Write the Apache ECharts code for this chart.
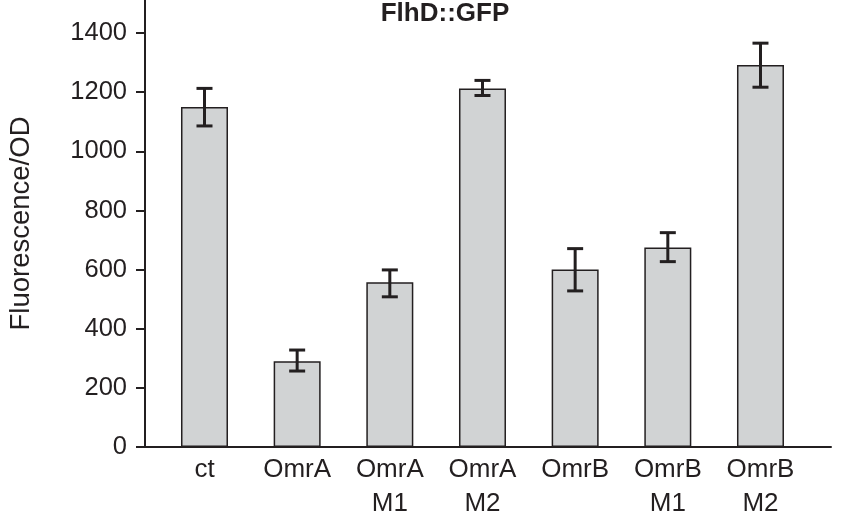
<!DOCTYPE html>
<html><head><meta charset="utf-8">
<script src="https://cdn.jsdelivr.net/npm/echarts@6/dist/echarts.min.js"></script>
<style>html,body{margin:0;padding:0;background:#fff}#c{width:841px;height:517px}</style>
</head><body><div id="c"></div>
<script>
const categories = ['ct', 'OmrA', 'OmrA\nM1', 'OmrA\nM2', 'OmrB', 'OmrB\nM1', 'OmrB\nM2'];
const values = [1150, 290, 557, 1213, 600, 675, 1292];
const errLow = [1086, 257, 508, 1189, 528, 627, 1217];
const errHigh = [1213, 328, 599, 1240, 671, 725, 1366];
const yTicks = [0, 200, 400, 600, 800, 1000, 1200, 1400];
const title = 'FlhD::GFP';
const yName = 'Fluorescence/OD';

const ink = '#231f20';
const font = '"Liberation Sans", Arial, sans-serif';
const idx = categories.map((c, i) => i);

const chart = echarts.init(document.getElementById('c'), null, {renderer: 'canvas'});
chart.setOption({
  animation: false,
  backgroundColor: '#fff',
  title: {
    text: title, left: 440, top: -4, textAlign: 'center',
    textStyle: {fontFamily: font, fontSize: 26, fontWeight: 'bold', color: ink}
  },
  grid: {left: 145, right: 10, top: 0, bottom: 70, containLabel: false, outerBoundsMode: 'none'},
  xAxis: {
    type: 'value', min: -0.642, max: 6.761,
    splitLine: {show: false},
    axisLine: {onZero: false, lineStyle: {color: ink, width: 2}},
    axisTick: {show: false},
    axisLabel: {
      customValues: idx, margin: 6,
      formatter: v => categories[Math.round(v)],
      fontFamily: font, fontSize: 26, color: ink, lineHeight: 34
    }
  },
  yAxis: {
    type: 'value', min: 0, max: 1512,
    name: yName, nameLocation: 'middle', nameGap: 110, nameRotate: 90,
    nameTextStyle: {fontFamily: font, fontSize: 27.5, color: ink},
    splitLine: {show: false},
    axisLine: {onZero: false, lineStyle: {color: ink, width: 2}},
    axisTick: {customValues: yTicks, length: 9, lineStyle: {color: ink, width: 2}},
    axisLabel: {customValues: yTicks, margin: 18, formatter: v => String(v),
      fontFamily: font, fontSize: 25.5, color: ink}
  },
  series: [
    {
      type: 'bar', barWidth: 47,
      data: values.map((v, i) => [i, v]),
      itemStyle: {color: '#d1d3d4', borderColor: ink, borderWidth: 1.5}
    },
    {
      type: 'custom',
      data: idx.map(i => [i, errLow[i], errHigh[i]]),
      renderItem: function (params, api) {
        const lo = api.coord([api.value(0), api.value(1)]);
        const hi = api.coord([api.value(0), api.value(2)]);
        const hw = 8;
        const st = {stroke: ink, lineWidth: 3};
        return {type: 'group', children: [
          {type: 'line', shape: {x1: hi[0], y1: hi[1], x2: lo[0], y2: lo[1]}, style: st},
          {type: 'line', shape: {x1: hi[0] - hw, y1: hi[1], x2: hi[0] + hw, y2: hi[1]}, style: st},
          {type: 'line', shape: {x1: lo[0] - hw, y1: lo[1], x2: lo[0] + hw, y2: lo[1]}, style: st}
        ]};
      },
      z: 5
    }
  ]
});
</script></body></html>
